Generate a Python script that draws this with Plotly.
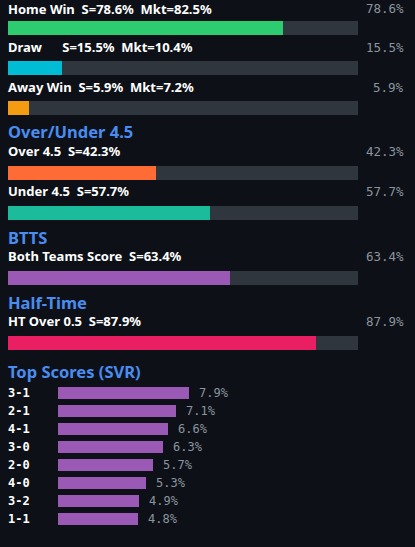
import plotly.graph_objects as go

# ── Data ──────────────────────────────────────────────────────
outcome_names = ["Home Win", "Draw", "Away Win"]
outcome_s = [78.6, 15.5, 5.9]
outcome_mkt = [82.5, 10.4, 7.2]
outcome_colors = ["#2ecc71", "#00bcd4", "#f39c12"]

ou_names = ["Over 4.5", "Under 4.5"]
ou_s = [42.3, 57.7]
ou_colors = ["#ff6b35", "#1abc9c"]

btts_names = ["Both Teams Score"]
btts_s = [63.4]

ht_names = ["HT Over 0.5"]
ht_s = [87.9]

score_labels = ["3-1", "2-1", "4-1", "3-0", "2-0", "4-0", "3-2", "1-1"]
score_probs = [7.9, 7.1, 6.6, 6.3, 5.7, 5.3, 4.9, 4.8]

# ── Style ─────────────────────────────────────────────────────
W, H = 415, 547
BG = "#0d1117"
TRACK = "#30363d"
BLUE = "#4a8cf0"
GREY = "#8b949e"
SANS = "Noto Sans"
MONO = "DejaVu Sans Mono"
NB = "\u00a0"
TX = 7  # left text edge


def px(x):
    # pixel -> paper fraction
    return x / W


fig = go.Figure()
ann = []

# rows: (label text, value, color, label y)
rows = []
for i, n in enumerate(outcome_names):
    pad = NB * 6 if n == "Draw" else NB * 2
    txt = f"{n}{pad}S={outcome_s[i]}%{NB*2}Mkt={outcome_mkt[i]}%"
    rows.append((txt, outcome_s[i], outcome_colors[i], 7 + 40 * i))
for i, n in enumerate(ou_names):
    rows.append((f"{n}{NB*2}S={ou_s[i]}%", ou_s[i], ou_colors[i], 151 + 40 * i))
rows.append((f"{btts_names[0]}{NB*2}S={btts_s[0]}%", btts_s[0], "#9b59b6", 256))
rows.append((f"{ht_names[0]}{NB*2}S={ht_s[0]}%", ht_s[0], "#e91e63", 321))

bar_y = [28 + 40 * i for i in range(3)] + [173, 213, 278, 343]

# grey tracks
fig.add_trace(go.Bar(
    x=[100] * len(rows), y=bar_y, orientation="h", width=14,
    marker=dict(color=TRACK, line_width=0), hoverinfo="skip",
    xaxis="x", yaxis="y", showlegend=False,
))
# value bars
fig.add_trace(go.Bar(
    x=[r[1] for r in rows], y=bar_y, orientation="h", width=14,
    marker=dict(color=[r[2] for r in rows], line_width=0),
    xaxis="x", yaxis="y", showlegend=False,
))

for k, (txt, v, c, ly) in enumerate(rows):
    ly = max(ly, 8.5)  # keep the top line inside the page
    ann.append(dict(text=f"<b>{txt}</b>", x=px(TX), xref="paper", xanchor="left",
                    y=ly, yref="y", yanchor="middle", showarrow=False, borderpad=0,
                    font=dict(family=SANS, size=13, color="#ffffff")))
    ann.append(dict(text=f"{v}%", x=px(405), xref="paper", xanchor="right",
                    y=ly, yref="y", yanchor="middle", showarrow=False, borderpad=0,
                    font=dict(family=MONO, size=12.5, color=GREY)))

# section titles
for t, ty in [("Over/Under 4.5", 131), ("BTTS", 237), ("Half-Time", 302), ("Top Scores (SVR)", 371)]:
    ann.append(dict(text=f"<b>{t}</b>", x=px(TX), xref="paper", xanchor="left",
                    y=ty, yref="y", yanchor="middle", showarrow=False, borderpad=0,
                    font=dict(family=SANS, size=16.5, color=BLUE)))

# top scores
score_y = [393 + 18 * i for i in range(len(score_labels))]
fig.add_trace(go.Bar(
    x=score_probs, y=score_y, orientation="h", width=12,
    marker=dict(color="#9b59b6", line_width=0),
    xaxis="x2", yaxis="y", showlegend=False,
))
for lab, p, sy in zip(score_labels, score_probs, score_y):
    ann.append(dict(text=f"<b>{lab}</b>", x=px(TX), xref="paper", xanchor="left",
                    y=sy, yref="y", yanchor="middle", showarrow=False, borderpad=0,
                    font=dict(family=MONO, size=12, color="#ffffff")))
    ann.append(dict(text=f"{p}%", x=p, xref="x2", xanchor="left", xshift=9,
                    y=sy, yref="y", yanchor="middle", showarrow=False, borderpad=0,
                    font=dict(family=MONO, size=12, color=GREY)))

axis_off = dict(showgrid=False, zeroline=False, showticklabels=False,
                showline=False, ticks="", fixedrange=True)
fig.update_layout(
    width=W, height=H,
    margin=dict(l=0, r=0, t=0, b=0),
    paper_bgcolor=BG, plot_bgcolor="rgba(0,0,0,0)",
    barmode="overlay", bargap=0,
    xaxis=dict(domain=[px(8), px(358)], range=[0, 100], **axis_off),
    xaxis2=dict(domain=[px(58), px(358)], range=[0, 300 / 16.6],
                anchor="y", **axis_off),
    yaxis=dict(domain=[0, 1], range=[H, 0], **axis_off),
    annotations=ann,
)

# page body: no margin, dark background like the dashboard
page_css = ("document.body.style.margin='0';"
            "document.body.style.background='%s';"
            "document.body.style.overflow='hidden';" % BG)
fig.write_html("out.html", post_script=page_css, config={"displayModeBar": False})
